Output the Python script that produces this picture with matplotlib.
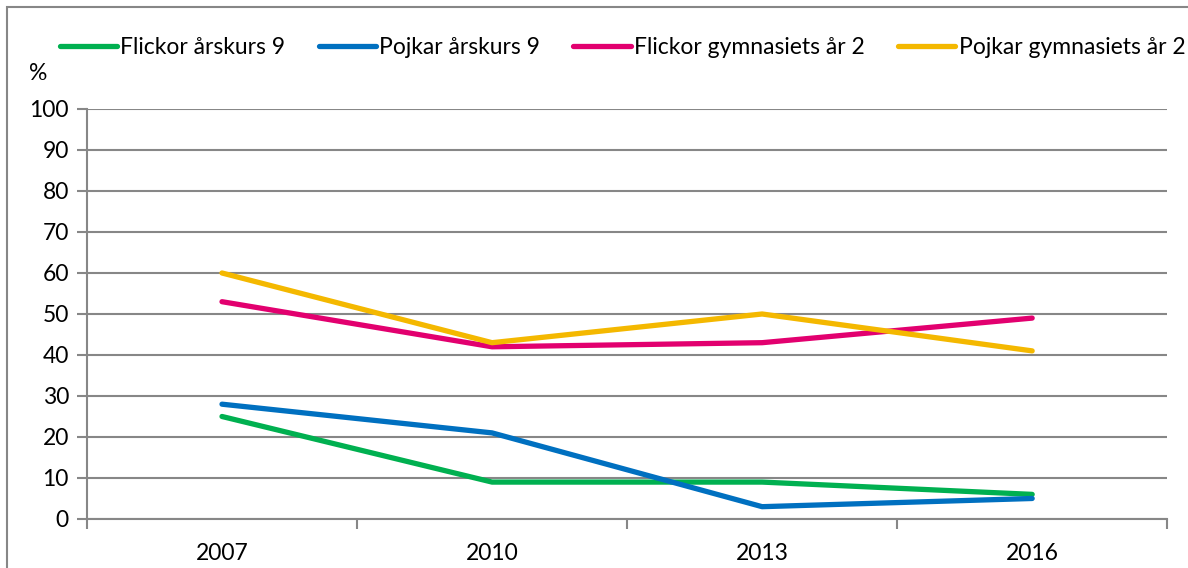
import numpy as np
import matplotlib.pyplot as plt
from matplotlib.patches import Rectangle

plt.rcParams['font.family'] = ['Lato', 'DejaVu Sans']

# data
years = ['2007', '2010', '2013', '2016']
flickor_ak9 = [25, 9, 9, 6]
pojkar_ak9 = [28, 21, 3, 5]
flickor_gy2 = [53, 42, 43, 49]
pojkar_gy2 = [60, 43, 50, 41]

series = [
    ('Flickor årskurs 9', flickor_ak9, '#00B050'),
    ('Pojkar årskurs 9', pojkar_ak9, '#0070C0'),
    ('Flickor gymnasiets år 2', flickor_gy2, '#E2006F'),
    ('Pojkar gymnasiets år 2', pojkar_gy2, '#F4B800'),
]

fs = 16.5

fig = plt.figure(figsize=(11.88, 5.68), dpi=100)
ax = fig.add_axes([0.0732, 0.0863, 0.9093, 0.7218])

x = np.arange(len(years))
for name, vals, col in series:
    ax.plot(x, vals, color=col, linewidth=3.8, label=name, solid_capstyle='round')

ax.set_xlim(-0.5, len(years) - 0.5)
ax.set_ylim(0, 100)
ax.set_yticks(np.arange(0, 101, 10))
ax.yaxis.grid(True, color='#878787', linewidth=1.5)
ax.set_axisbelow(True)

# category labels centred, ticks on boundaries
ax.set_xticks(x)
ax.set_xticklabels(years)
ax.tick_params(axis='x', which='major', length=0, pad=17)
ax.set_xticks(np.arange(-0.5, len(years)), minor=True)
ax.tick_params(axis='x', which='minor', length=7, width=1.5, color='#878787')
ax.tick_params(axis='y', length=7, width=1.5, color='#878787', pad=6)
ax.tick_params(labelsize=fs)

for s in ['top', 'right']:
    ax.spines[s].set_visible(False)
for s in ['left', 'bottom']:
    ax.spines[s].set_color('#878787')
    ax.spines[s].set_linewidth(1.5)

fig.text(38 / 1188, 1 - 73 / 568, '%', fontsize=fs, ha='center', va='center')

leg = fig.legend(loc='center', bbox_to_anchor=(0.524, 1 - 48 / 568), ncol=4,
                 frameon=False, fontsize=fs, handlelength=2.5,
                 handletextpad=0.15, columnspacing=1.45)

# outer border of the chart area
fig.patches.append(Rectangle((7 / 1188, -0.1), 1.2, 1 - 7 / 568 + 0.1,
                             transform=fig.transFigure, fill=False,
                             edgecolor='#878787', linewidth=1.5))

fig.savefig('out.png', dpi=100)
